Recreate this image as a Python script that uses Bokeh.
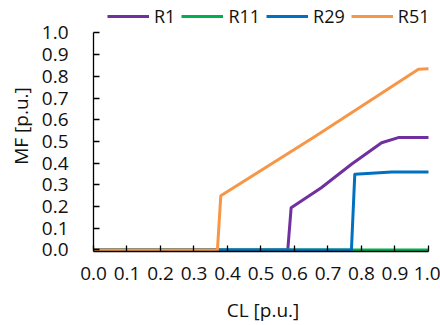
from bokeh.plotting import figure
from bokeh.models import Range1d, Legend, LegendItem, FixedTicker
from bokeh.embed import file_html
from bokeh.resources import INLINE

# ---- data ----
r1_x = [0.0, 0.58, 0.59, 0.68, 0.77, 0.86, 0.91, 1.0]
r1_y = [0.0, 0.0, 0.195, 0.287, 0.395, 0.494, 0.518, 0.518]
r11_x = [0.0, 1.0]
r11_y = [0.0, 0.0]
r29_x = [0.0, 0.77, 0.78, 0.89, 1.0]
r29_y = [0.0, 0.0, 0.349, 0.359, 0.359]
r51_x = [0.0, 0.37, 0.38, 0.66, 0.97, 1.0]
r51_y = [0.0, 0.0, 0.25, 0.522, 0.833, 0.835]
x_ticks = [0.0, 0.1, 0.2, 0.3, 0.4, 0.5, 0.6, 0.7, 0.8, 0.9, 1.0]
y_ticks = [0.0, 0.1, 0.2, 0.3, 0.4, 0.5, 0.6, 0.7, 0.8, 0.9, 1.0]
series = [
    ("R1", r1_x, r1_y, "#7030A0"),
    ("R11", r11_x, r11_y, "#00B050"),
    ("R29", r29_x, r29_y, "#0070C0"),
    ("R51", r51_x, r51_y, "#F79646"),
]

FONT = "Open Sans"
TXT = "#111111"
FS = "19px"

# frame spans full top of canvas; legend lives above y=1.0 inside the frame
p = figure(width=440, height=325, output_backend="svg", toolbar_location=None,
           x_range=Range1d(0, 1.012), y_range=Range1d(-0.007, 1.1497),
           min_border_left=93, min_border_right=8, min_border_top=0,
           min_border_bottom=74)
p.outline_line_color = None
p.xgrid.visible = False
p.ygrid.visible = False
p.background_fill_color = "white"
p.border_fill_color = "white"

items = []
for name, xs, ys, col in series:
    r = p.line(xs, ys, line_color=col, line_width=3, line_join="round")
    items.append(LegendItem(label=name, renderers=[r]))

for ax, ticks in ((p.xaxis[0], x_ticks), (p.yaxis[0], y_ticks)):
    ax.ticker = FixedTicker(ticks=ticks)
    ax.bounds = (0, 1)
    ax.minor_tick_line_color = None
    ax.major_tick_in = 6
    ax.major_tick_out = 0
    ax.axis_line_color = "black"
    ax.axis_line_width = 1.3
    ax.major_tick_line_color = "black"
    ax.major_tick_line_width = 1.3
    ax.major_label_text_font = FONT
    ax.major_label_text_font_size = FS
    ax.major_label_text_color = TXT
    ax.axis_label_text_font = FONT
    ax.axis_label_text_font_size = FS
    ax.axis_label_text_font_style = "normal"
    ax.axis_label_text_color = TXT

p.xaxis[0].major_label_overrides = {t: f"{t:.1f}" for t in x_ticks}
p.yaxis[0].major_label_overrides = {t: f"{t:.1f}" for t in y_ticks}
p.xaxis[0].axis_label = "CL [p.u.]"
p.yaxis[0].axis_label = "MF [p.u.]"
p.xaxis[0].major_label_standoff = 15
p.yaxis[0].major_label_standoff = 25
p.xaxis[0].axis_label_standoff = 14
p.yaxis[0].axis_label_standoff = 5

legend = Legend(items=items, orientation="horizontal", location=(14, 223),
                glyph_width=42, glyph_height=20, label_standoff=5, spacing=6,
                padding=0, margin=0, border_line_color=None,
                background_fill_alpha=0,
                label_text_font=FONT, label_text_font_size="18px",
                label_text_color=TXT)
p.add_layout(legend, "center")

open("out.html", "w").write(file_html(p, INLINE))
